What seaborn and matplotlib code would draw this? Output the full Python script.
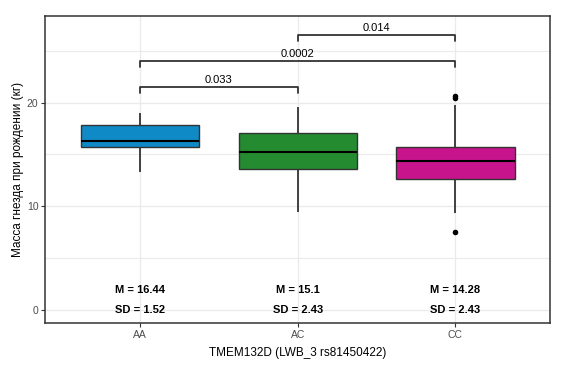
import numpy as np
import pandas as pd
import matplotlib
matplotlib.use("Agg")
import matplotlib.pyplot as plt
import seaborn as sns
from matplotlib.ticker import MultipleLocator

# genotype groups
genotypes = ["AA", "AC", "CC"]
# five-number summaries
whisker_low = [13.3, 9.4, 9.3]
q1 = [15.7, 13.6, 12.6]
median = [16.25, 15.25, 14.35]
q3 = [17.8, 17.05, 15.7]
whisker_high = [19.0, 19.6, 19.8]
# outliers
outlier_group = ["CC", "CC", "CC"]
outlier_value = [20.4, 20.6, 7.5]
# mean / sd annotations
means = ["16.44", "15.1", "14.28"]
sds = ["1.52", "2.43", "2.43"]
# pairwise comparisons
pair_a = ["AA", "AA", "AC"]
pair_b = ["AC", "CC", "CC"]
p_values = ["0.033", "0.0002", "0.014"]
bracket_y = [21.5, 24.0, 26.5]
colors = ["#0f8ac6", "#248b30", "#c8148c"]

# long table: with 5 points per group the quartiles come out exactly as read
rows = []
for g, a, b, c, d, e in zip(genotypes, whisker_low, q1, median, q3, whisker_high):
    for v in (a, b, c, d, e):
        rows.append({"genotype": g, "value": v})
df = pd.DataFrame(rows)

sns.set_theme(style="white")
plt.rcParams["font.family"] = ["Liberation Sans", "DejaVu Sans"]

fig, ax = plt.subplots(figsize=(5.65, 3.71), dpi=100)
fig.subplots_adjust(left=0.0805, right=0.9735, top=0.958, bottom=0.129)

sns.boxplot(data=df, x="genotype", y="value", hue="genotype", order=genotypes,
            palette=colors, width=0.75, saturation=1, whis=(0, 100),
            showfliers=False, showcaps=False, linecolor="#333333", linewidth=1.0,
            whiskerprops=dict(linewidth=1.3),
            medianprops=dict(color="black", linewidth=1.5),
            legend=False, ax=ax)
sns.stripplot(x=outlier_group, y=outlier_value, order=genotypes, jitter=False,
              color="black", size=4, linewidth=0, ax=ax)

for i, (m, s) in enumerate(zip(means, sds)):
    ax.text(i, 1.95, f"M = {m}", ha="center", va="center", fontsize=8,
            fontweight="bold", color="black")
    ax.text(i, 0.0, f"SD = {s}", ha="center", va="center", fontsize=8,
            fontweight="bold", color="black")

for a, b, p, y in zip(pair_a, pair_b, p_values, bracket_y):
    xa, xb = genotypes.index(a), genotypes.index(b)
    ax.plot([xa, xa, xb, xb], [y - 0.6, y, y, y - 0.6], color="#333333", lw=1.3)
    ax.text((xa + xb) / 2, y + 0.2, p, ha="center", va="bottom", fontsize=8,
            color="black")

ax.set_xlim(-0.6, 2.6)
ax.set_ylim(-1.29, 28.4)
ax.set_yticks([0, 10, 20])
ax.yaxis.set_minor_locator(MultipleLocator(5))
ax.set_axisbelow(True)
ax.grid(which="major", color="#ebebeb", lw=1.0)
ax.grid(which="minor", axis="y", color="#ebebeb", lw=0.8)
ax.tick_params(axis="both", which="major", length=3, width=0.8, color="#333333",
               labelsize=7.5, labelcolor="#4d4d4d", pad=2, bottom=True, left=True)
ax.tick_params(axis="both", which="minor", length=0)
for sp in ax.spines.values():
    sp.set_color("#333333")
    sp.set_linewidth(1.1)

ax.set_xlabel("TMEM132D (LWB_3 rs81450422)", fontsize=8.5, color="black", labelpad=5)
ax.set_ylabel("Масса гнезда при рождении (кг)", fontsize=8.5, color="black", labelpad=2)

fig.savefig("out.png", dpi=100)
